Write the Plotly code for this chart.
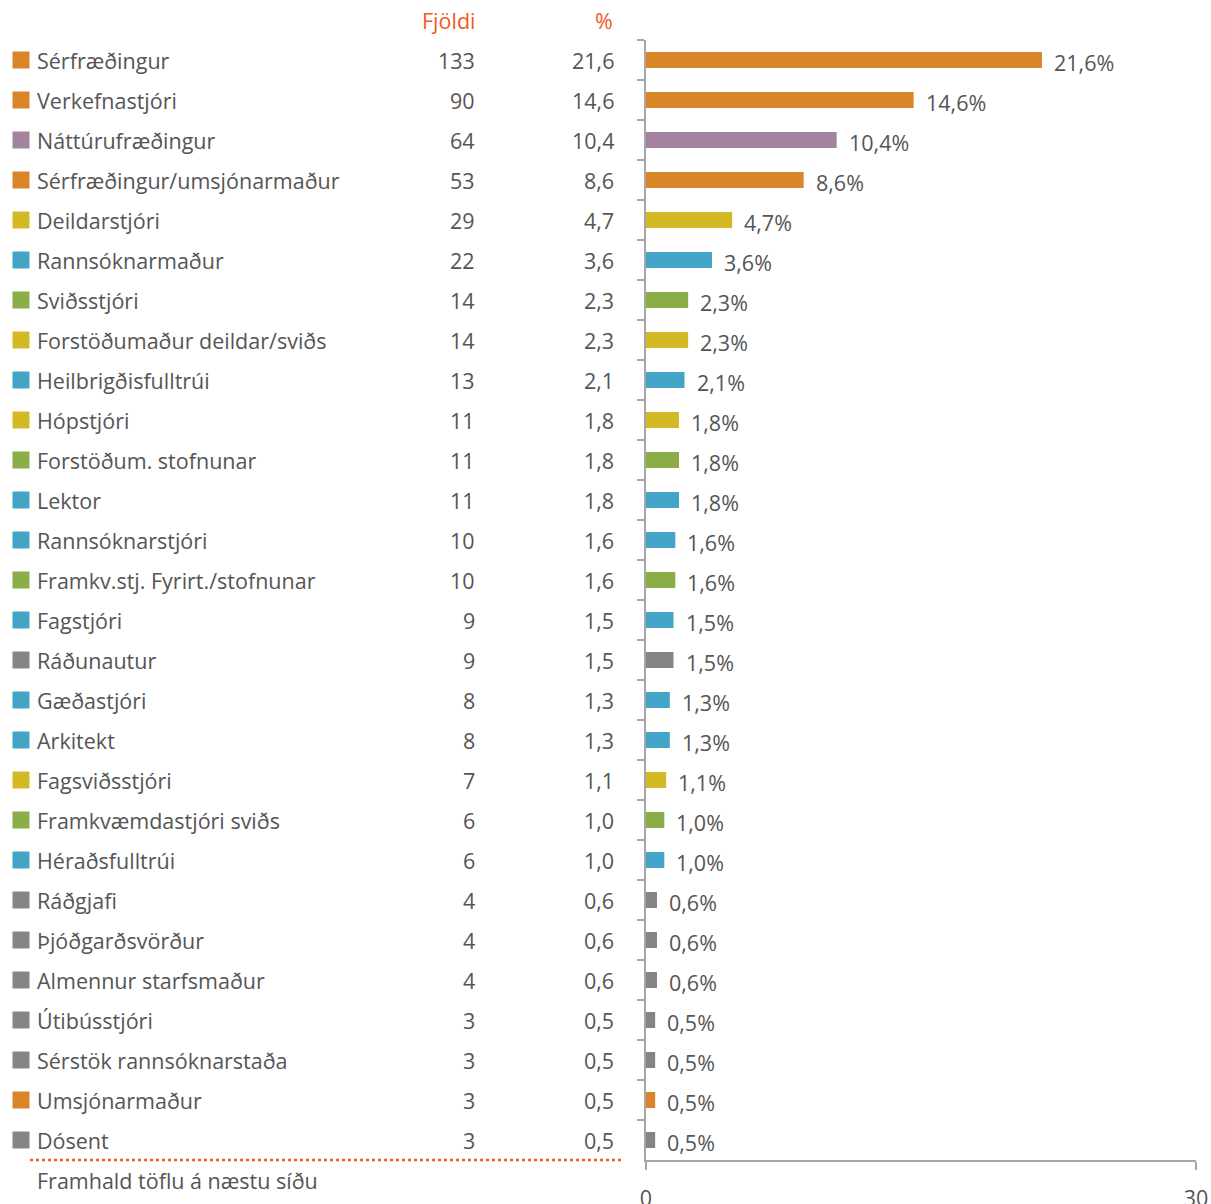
import plotly.graph_objects as go

categories = ["Sérfræðingur", "Verkefnastjóri", "Náttúrufræðingur", "Sérfræðingur/umsjónarmaður",
              "Deildarstjóri", "Rannsóknarmaður", "Sviðsstjóri", "Forstöðumaður deildar/sviðs",
              "Heilbrigðisfulltrúi", "Hópstjóri", "Forstöðum. stofnunar", "Lektor",
              "Rannsóknarstjóri", "Framkv.stj. Fyrirt./stofnunar", "Fagstjóri", "Ráðunautur",
              "Gæðastjóri", "Arkitekt", "Fagsviðsstjóri", "Framkvæmdastjóri sviðs",
              "Héraðsfulltrúi", "Ráðgjafi", "Þjóðgarðsvörður", "Almennur starfsmaður",
              "Útibússtjóri", "Sérstök rannsóknarstaða", "Umsjónarmaður", "Dósent"]
counts = [133, 90, 64, 53, 29, 22, 14, 14, 13, 11, 11, 11, 10, 10, 9, 9, 8, 8, 7, 6, 6, 4, 4, 4, 3, 3, 3, 3]
percents = [21.6, 14.6, 10.4, 8.6, 4.7, 3.6, 2.3, 2.3, 2.1, 1.8, 1.8, 1.8, 1.6, 1.6, 1.5, 1.5,
            1.3, 1.3, 1.1, 1.0, 1.0, 0.6, 0.6, 0.6, 0.5, 0.5, 0.5, 0.5]
groups = ["o", "o", "p", "o", "y", "b", "g", "y", "b", "y", "g", "b", "b", "g", "b", "k",
          "b", "b", "y", "g", "b", "k", "k", "k", "k", "k", "o", "k"]
palette = {"o": "#D9852A", "p": "#A2849F", "y": "#D4B924", "b": "#42A5C8", "g": "#8BAD48", "k": "#858585"}
colors = [palette[g] for g in groups]

FONT = "Open Sans"
FS = 21.5
TXT = "#555555"
HEAD = "#F05A22"
W, H = 1211, 1204
N = len(categories)

fig = go.Figure()
fig.add_trace(go.Bar(
    y=categories, x=percents, orientation="h",
    marker=dict(color=colors, line=dict(width=0)),
    xaxis="x", yaxis="y", showlegend=False, hoverinfo="skip",
))
# legend-style squares in the table area
fig.add_trace(go.Scatter(
    y=categories, x=[21] * N, mode="markers",
    marker=dict(symbol="square", size=17, color=colors),
    xaxis="x2", yaxis="y", showlegend=False, hoverinfo="skip", cliponaxis=False,
))

annotations = []
for cat, n, p in zip(categories, counts, percents):
    f = dict(family=FONT, size=FS, color=TXT)
    annotations.append(dict(x=35, y=cat, xref="x2", yref="y", text=cat, showarrow=False,
                            xanchor="left", yanchor="middle", font=f))
    annotations.append(dict(x=477, y=cat, xref="x2", yref="y", text=str(n), showarrow=False,
                            xanchor="right", yanchor="middle", font=f))
    annotations.append(dict(x=616, y=cat, xref="x2", yref="y", text=f"{p:.1f}".replace(".", ","),
                            showarrow=False, xanchor="right", yanchor="middle", font=f))
    # bar value labels
    annotations.append(dict(x=p, y=cat, xref="x", yref="y", text=f"{p:.1f}%".replace(".", ","),
                            showarrow=False, xanchor="left", yanchor="middle", xshift=10, yshift=-2,
                            font=f))
annotations.append(dict(x=477, y=1 + 20 / 1120, xref="x2", yref="paper", text="Fjöldi", showarrow=False,
                        xanchor="right", yanchor="middle", font=dict(family=FONT, size=FS, color=HEAD)))
annotations.append(dict(x=615, y=1 + 20 / 1120, xref="x2", yref="paper", text="%", showarrow=False,
                        xanchor="right", yanchor="middle", font=dict(family=FONT, size=FS, color=HEAD)))
annotations.append(dict(x=35, y=-20 / 1120, xref="x2", yref="paper", text="Framhald töflu á næstu síðu",
                        showarrow=False, xanchor="left", yanchor="middle",
                        font=dict(family=FONT, size=FS, color=TXT)))

fig.update_layout(
    width=W, height=H, paper_bgcolor="white", plot_bgcolor="white",
    margin=dict(l=0, r=0, t=40, b=44, autoexpand=False), separators=",.",
    bargap=0.6,
    xaxis=dict(domain=[646 / W, 1196 / W], range=[0, 30], tickvals=[0, 30], ticktext=["0", "30"],
               showgrid=False, zeroline=False, showline=True, linecolor="#A6A6A6", linewidth=2,
               ticks="outside", ticklen=8, tickwidth=2, tickcolor="#A6A6A6",
               ticklabelstandoff=10, tickfont=dict(family=FONT, size=FS, color=TXT), fixedrange=True),
    xaxis2=dict(domain=[0, 646 / W], range=[0, 646], anchor="y", visible=False, fixedrange=True),
    yaxis=dict(range=[N - 0.5, -0.5], showticklabels=False, showgrid=False, zeroline=False,
               showline=True, linecolor="#A6A6A6", linewidth=2, ticks="outside", tickson="boundaries",
               ticklen=7, tickwidth=2, tickcolor="#A6A6A6", anchor="x", fixedrange=True),
    annotations=annotations,
    shapes=[dict(type="line", xref="x2", yref="paper", x0=30, x1=622, y0=0, y1=0,
                 line=dict(color=HEAD, width=2.5, dash="dot"))],
)

fig.write_html("out.html", config={"displayModeBar": False},
               post_script="document.body.style.margin='0';document.body.style.overflow='hidden';")
